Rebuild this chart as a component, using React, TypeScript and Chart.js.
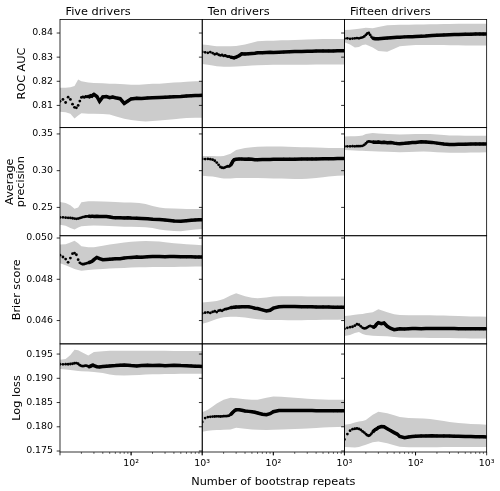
import React, { useEffect, useRef } from 'react';
import { Chart, registerables } from 'chart.js';

Chart.register(...registerables);

const FONT = '"DejaVu Sans", sans-serif';

const COLUMN_TITLES = ['Five drivers', 'Ten drivers', 'Fifteen drivers'];
const ROW_LABELS = [['ROC AUC'], ['Average', 'precision'], ['Brier score'], ['Log loss']];
const X_LABEL = 'Number of bootstrap repeats';
const X_MIN = 10;
const X_MAX = 1000;
const X_LABEL_TICKS = [100, 1000];
const X_TICK_TEXT: Record<number, string> = { 100: '10²', 1000: '10³' };
const Y_MIN = [0.8008, 0.2114, 0.04487, 0.1748];
const Y_MAX = [0.8456, 0.3586, 0.05011, 0.1971];
const Y_TICKS = [
  [0.81, 0.82, 0.83, 0.84],
  [0.25, 0.3, 0.35],
  [0.046, 0.048, 0.05],
  [0.175, 0.18, 0.185, 0.19, 0.195],
];
const Y_DECIMALS = [2, 2, 3, 3];

// number of bootstrap repeats at which the mean is read
const MEAN_N = [10, 11, 12, 13, 14, 15, 16, 17, 18, 19, 20, 21, 22, 23, 24, 25, 26, 27, 28, 29, 30,
  33, 36, 40, 45, 50, 55, 60, 70, 80, 90, 100, 120, 140, 170, 200, 250, 300, 350, 400, 500, 600, 700, 800, 900, 1000];
// number of bootstrap repeats at which the band is read
const BAND_N = [10, 12, 14, 16, 18, 20, 25, 30, 40, 50, 60, 80, 100, 130, 160, 200, 250, 300, 400, 500, 600, 800, 1000];

// ROC AUC
const rocMean5 = [0.8117, 0.8125, 0.8112, 0.8134, 0.8125, 0.8105, 0.8092, 0.8090, 0.8100, 0.8118, 0.8133, 0.8135, 0.8133, 0.8137, 0.8135, 0.8138, 0.8136, 0.8140, 0.8138, 0.8143, 0.8146,
  0.8137, 0.8117, 0.8135, 0.8137, 0.8132, 0.8135, 0.8132, 0.8128, 0.8108, 0.8118, 0.8127, 0.8130, 0.8129, 0.8131, 0.8132, 0.8133, 0.8134, 0.8135, 0.8136, 0.8137, 0.8139, 0.8140, 0.8141, 0.8141, 0.8142];
const rocHi5 = [0.8173, 0.8173, 0.8175, 0.8180, 0.8207, 0.8200, 0.8195, 0.8193, 0.8192, 0.8190, 0.8190, 0.8188, 0.8186, 0.8186, 0.8188, 0.8190, 0.8190, 0.8192, 0.8195, 0.8196, 0.8198, 0.8200, 0.8200];
const rocLo5 = [0.8074, 0.8072, 0.8065, 0.8046, 0.8058, 0.8068, 0.8066, 0.8066, 0.8064, 0.8062, 0.8055, 0.8045, 0.8040, 0.8035, 0.8033, 0.8035, 0.8038, 0.8040, 0.8043, 0.8046, 0.8048, 0.8049, 0.8049];

const rocMean10 = [0.8322, 0.8320, 0.8318, 0.8321, 0.8317, 0.8312, 0.8314, 0.8310, 0.8307, 0.8309, 0.8305, 0.8307, 0.8304, 0.8302, 0.8303, 0.8300, 0.8299, 0.8298, 0.8297, 0.8299, 0.8300,
  0.8306, 0.8314, 0.8313, 0.8314, 0.8315, 0.8316, 0.8318, 0.8318, 0.8319, 0.8320, 0.8319, 0.8320, 0.8321, 0.8322, 0.8323, 0.8323, 0.8324, 0.8324, 0.8325, 0.8326, 0.8326, 0.8326, 0.8327, 0.8327, 0.8327];
const rocHi10 = [0.8352, 0.8350, 0.8347, 0.8345, 0.8345, 0.8345, 0.8345, 0.8346, 0.8352, 0.8360, 0.8366, 0.8368, 0.8368, 0.8370, 0.8370, 0.8371, 0.8372, 0.8373, 0.8374, 0.8375, 0.8375, 0.8375, 0.8375];
const rocLo10 = [0.8272, 0.8268, 0.8265, 0.8262, 0.8261, 0.8260, 0.8260, 0.8261, 0.8263, 0.8265, 0.8266, 0.8267, 0.8268, 0.8268, 0.8268, 0.8269, 0.8269, 0.8269, 0.8270, 0.8270, 0.8270, 0.8270, 0.8270];

const rocMean15 = [0.8377, 0.8378, 0.8376, 0.8377, 0.8378, 0.8379, 0.8378, 0.8380, 0.8382, 0.8386, 0.8392, 0.8398, 0.8400, 0.8392, 0.8384, 0.8378, 0.8377, 0.8376, 0.8376, 0.8376, 0.8376,
  0.8377, 0.8378, 0.8379, 0.8380, 0.8381, 0.8382, 0.8382, 0.8384, 0.8385, 0.8385, 0.8386, 0.8387, 0.8388, 0.8390, 0.8391, 0.8392, 0.8393, 0.8394, 0.8394, 0.8395, 0.8395, 0.8396, 0.8396, 0.8396, 0.8396];
const rocHi15 = [0.8412, 0.8414, 0.8416, 0.8418, 0.8420, 0.8422, 0.8420, 0.8425, 0.8432, 0.8433, 0.8434, 0.8434, 0.8435, 0.8435, 0.8436, 0.8436, 0.8437, 0.8437, 0.8438, 0.8438, 0.8438, 0.8438, 0.8438];
const rocLo15 = [0.8362, 0.8352, 0.8340, 0.8342, 0.8350, 0.8352, 0.8340, 0.8325, 0.8322, 0.8335, 0.8345, 0.8348, 0.8350, 0.8350, 0.8350, 0.8350, 0.8350, 0.8349, 0.8349, 0.8348, 0.8348, 0.8348, 0.8348];

// Average precision
const apMean5 = [0.2364, 0.2365, 0.2360, 0.2358, 0.2356, 0.2352, 0.2348, 0.2345, 0.2348, 0.2355, 0.2362, 0.2368, 0.2372, 0.2376, 0.2378, 0.2378, 0.2378, 0.2377, 0.2378, 0.2378, 0.2377,
  0.2378, 0.2377, 0.2376, 0.2376, 0.2370, 0.2362, 0.2358, 0.2358, 0.2357, 0.2358, 0.2355, 0.2352, 0.2350, 0.2346, 0.2340, 0.2335, 0.2328, 0.2322, 0.2315, 0.2310, 0.2318, 0.2325, 0.2330, 0.2332, 0.2333];
const apHi5 = [0.2574, 0.2560, 0.2530, 0.2480, 0.2500, 0.2570, 0.2582, 0.2582, 0.2580, 0.2578, 0.2572, 0.2568, 0.2565, 0.2560, 0.2545, 0.2520, 0.2500, 0.2490, 0.2485, 0.2480, 0.2478, 0.2478, 0.2478];
const apLo5 = [0.2264, 0.2250, 0.2220, 0.2200, 0.2225, 0.2245, 0.2250, 0.2252, 0.2250, 0.2248, 0.2245, 0.2238, 0.2235, 0.2232, 0.2230, 0.2220, 0.2200, 0.2190, 0.2180, 0.2175, 0.2185, 0.2200, 0.2206];

const apMean10 = [0.3160, 0.3158, 0.3160, 0.3157, 0.3150, 0.3135, 0.3110, 0.3080, 0.3050, 0.3040, 0.3038, 0.3045, 0.3055, 0.3060, 0.3058, 0.3070, 0.3100, 0.3130, 0.3148, 0.3152, 0.3155,
  0.3158, 0.3158, 0.3157, 0.3158, 0.3155, 0.3150, 0.3148, 0.3152, 0.3152, 0.3153, 0.3154, 0.3155, 0.3156, 0.3157, 0.3157, 0.3158, 0.3158, 0.3159, 0.3160, 0.3161, 0.3162, 0.3163, 0.3164, 0.3165, 0.3166];
const apHi10 = [0.3200, 0.3200, 0.3200, 0.3195, 0.3195, 0.3200, 0.3230, 0.3280, 0.3310, 0.3320, 0.3325, 0.3330, 0.3330, 0.3328, 0.3325, 0.3322, 0.3320, 0.3318, 0.3315, 0.3312, 0.3310, 0.3310, 0.3310];
const apLo10 = [0.2930, 0.2925, 0.2920, 0.2910, 0.2900, 0.2895, 0.2895, 0.2900, 0.2900, 0.2900, 0.2900, 0.2898, 0.2895, 0.2892, 0.2890, 0.2888, 0.2888, 0.2890, 0.2900, 0.2910, 0.2920, 0.2930, 0.2935];

const apMean15 = [0.3330, 0.3332, 0.3331, 0.3333, 0.3332, 0.3334, 0.3333, 0.3335, 0.3338, 0.3350, 0.3370, 0.3390, 0.3398, 0.3396, 0.3392, 0.3390, 0.3388, 0.3387, 0.3386, 0.3388, 0.3390,
  0.3385, 0.3388, 0.3380, 0.3383, 0.3375, 0.3370, 0.3368, 0.3372, 0.3378, 0.3382, 0.3385, 0.3392, 0.3390, 0.3385, 0.3375, 0.3362, 0.3355, 0.3356, 0.3358, 0.3360, 0.3362, 0.3363, 0.3363, 0.3364, 0.3364];
const apHi15 = [0.3465, 0.3468, 0.3470, 0.3472, 0.3480, 0.3500, 0.3512, 0.3505, 0.3500, 0.3495, 0.3492, 0.3495, 0.3498, 0.3500, 0.3498, 0.3492, 0.3485, 0.3480, 0.3478, 0.3476, 0.3475, 0.3475, 0.3475];
const apLo15 = [0.3280, 0.3278, 0.3275, 0.3272, 0.3270, 0.3268, 0.3265, 0.3262, 0.3258, 0.3255, 0.3252, 0.3255, 0.3258, 0.3260, 0.3258, 0.3252, 0.3248, 0.3245, 0.3245, 0.3245, 0.3246, 0.3248, 0.3250];

// Brier score
const brierMean5 = [0.04917, 0.04908, 0.04898, 0.04882, 0.04903, 0.04924, 0.04927, 0.04919, 0.04895, 0.04880, 0.04875, 0.04873, 0.04874, 0.04876, 0.04878, 0.04880, 0.04882, 0.04884, 0.04886, 0.04890, 0.04895,
  0.04906, 0.04900, 0.04895, 0.04896, 0.04897, 0.04898, 0.04899, 0.04900, 0.04903, 0.04905, 0.04906, 0.04908, 0.04907, 0.04909, 0.04910, 0.04910, 0.04909, 0.04910, 0.04910, 0.04909, 0.04909, 0.04909, 0.04908, 0.04908, 0.04908];
const brierHi5 = [0.04968, 0.04970, 0.04978, 0.04987, 0.04975, 0.04960, 0.04955, 0.04955, 0.04962, 0.04968, 0.04972, 0.04978, 0.04982, 0.04984, 0.04985, 0.04984, 0.04983, 0.04980, 0.04975, 0.04972, 0.04970, 0.04967, 0.04965];
const brierLo5 = [0.04878, 0.04868, 0.04858, 0.04850, 0.04845, 0.04841, 0.04845, 0.04848, 0.04850, 0.04852, 0.04853, 0.04855, 0.04857, 0.04858, 0.04858, 0.04859, 0.04859, 0.04860, 0.04860, 0.04861, 0.04861, 0.04862, 0.04862];

const brierMean10 = [0.04635, 0.04638, 0.04640, 0.04637, 0.04642, 0.04645, 0.04641, 0.04648, 0.04650, 0.04647, 0.04652, 0.04655, 0.04656, 0.04658, 0.04660, 0.04662, 0.04663, 0.04664, 0.04665, 0.04665, 0.04666,
  0.04666, 0.04667, 0.04667, 0.04667, 0.04664, 0.04660, 0.04658, 0.04652, 0.04647, 0.04650, 0.04660, 0.04667, 0.04668, 0.04668, 0.04668, 0.04667, 0.04667, 0.04667, 0.04666, 0.04666, 0.04666, 0.04665, 0.04665, 0.04665, 0.04665];
const brierHi10 = [0.04688, 0.04690, 0.04692, 0.04695, 0.04700, 0.04705, 0.04722, 0.04732, 0.04718, 0.04710, 0.04708, 0.04712, 0.04716, 0.04718, 0.04718, 0.04718, 0.04718, 0.04717, 0.04717, 0.04716, 0.04716, 0.04716, 0.04716];
const brierLo10 = [0.04585, 0.04592, 0.04600, 0.04608, 0.04612, 0.04616, 0.04618, 0.04618, 0.04615, 0.04610, 0.04606, 0.04603, 0.04603, 0.04603, 0.04602, 0.04602, 0.04602, 0.04603, 0.04603, 0.04604, 0.04604, 0.04604, 0.04605];

const brierMean15 = [0.04560, 0.04565, 0.04568, 0.04570, 0.04575, 0.04582, 0.04580, 0.04572, 0.04565, 0.04562, 0.04563, 0.04567, 0.04572, 0.04574, 0.04572, 0.04570, 0.04568, 0.04572, 0.04580, 0.04586, 0.04590,
  0.04585, 0.04588, 0.04572, 0.04562, 0.04556, 0.04558, 0.04560, 0.04559, 0.04560, 0.04561, 0.04561, 0.04560, 0.04561, 0.04562, 0.04562, 0.04561, 0.04561, 0.04561, 0.04560, 0.04560, 0.04560, 0.04560, 0.04560, 0.04560, 0.04560];
const brierHi15 = [0.04622, 0.04625, 0.04628, 0.04630, 0.04632, 0.04635, 0.04640, 0.04655, 0.04640, 0.04630, 0.04627, 0.04626, 0.04626, 0.04626, 0.04626, 0.04625, 0.04624, 0.04623, 0.04622, 0.04621, 0.04620, 0.04620, 0.04619];
const brierLo15 = [0.04525, 0.04530, 0.04540, 0.04545, 0.04535, 0.04530, 0.04526, 0.04525, 0.04524, 0.04520, 0.04518, 0.04517, 0.04517, 0.04517, 0.04516, 0.04516, 0.04515, 0.04515, 0.04514, 0.04514, 0.04513, 0.04513, 0.04513];

// Log loss
const llMean5 = [0.19290, 0.19288, 0.19292, 0.19290, 0.19295, 0.19300, 0.19310, 0.19315, 0.19300, 0.19270, 0.19255, 0.19250, 0.19255, 0.19262, 0.19255, 0.19245, 0.19240, 0.19250, 0.19265, 0.19270, 0.19260,
  0.19240, 0.19235, 0.19242, 0.19250, 0.19255, 0.19260, 0.19262, 0.19270, 0.19272, 0.19268, 0.19262, 0.19255, 0.19262, 0.19270, 0.19265, 0.19268, 0.19260, 0.19265, 0.19268, 0.19262, 0.19260, 0.19255, 0.19250, 0.19248, 0.19245];
const llHi5 = [0.19385, 0.19400, 0.19480, 0.19590, 0.19580, 0.19540, 0.19470, 0.19545, 0.19560, 0.19568, 0.19570, 0.19570, 0.19570, 0.19570, 0.19570, 0.19568, 0.19568, 0.19566, 0.19565, 0.19565, 0.19564, 0.19563, 0.19562];
const llLo5 = [0.19190, 0.19180, 0.19170, 0.19160, 0.19150, 0.19145, 0.19140, 0.19130, 0.19110, 0.19080, 0.19065, 0.19060, 0.19062, 0.19070, 0.19078, 0.19082, 0.19085, 0.19088, 0.19090, 0.19092, 0.19093, 0.19094, 0.19094];

const llMean10 = [0.18100, 0.18180, 0.18200, 0.18205, 0.18210, 0.18212, 0.18215, 0.18215, 0.18212, 0.18215, 0.18218, 0.18220, 0.18220, 0.18225, 0.18232, 0.18250, 0.18275, 0.18300, 0.18320, 0.18340, 0.18350,
  0.18352, 0.18340, 0.18325, 0.18318, 0.18312, 0.18300, 0.18285, 0.18260, 0.18250, 0.18270, 0.18310, 0.18335, 0.18338, 0.18338, 0.18336, 0.18335, 0.18335, 0.18334, 0.18333, 0.18332, 0.18332, 0.18331, 0.18330, 0.18330, 0.18330];
const llHi10 = [0.18300, 0.18350, 0.18420, 0.18480, 0.18520, 0.18560, 0.18600, 0.18590, 0.18570, 0.18560, 0.18560, 0.18600, 0.18625, 0.18620, 0.18610, 0.18600, 0.18590, 0.18580, 0.18570, 0.18565, 0.18560, 0.18558, 0.18558];
const llLo10 = [0.17900, 0.17920, 0.17930, 0.17935, 0.17935, 0.17938, 0.17945, 0.17980, 0.17960, 0.17945, 0.17940, 0.17935, 0.17940, 0.17945, 0.17950, 0.17955, 0.17960, 0.17965, 0.17975, 0.17985, 0.17990, 0.17995, 0.18000];

const llMean15 = [0.17740, 0.17850, 0.17920, 0.17950, 0.17960, 0.17965, 0.17955, 0.17935, 0.17905, 0.17880, 0.17850, 0.17825, 0.17815, 0.17830, 0.17860, 0.17890, 0.17920, 0.17940, 0.17950, 0.17965, 0.17985,
  0.18005, 0.18000, 0.17960, 0.17920, 0.17880, 0.17850, 0.17800, 0.17775, 0.17790, 0.17800, 0.17805, 0.17810, 0.17812, 0.17815, 0.17812, 0.17810, 0.17808, 0.17806, 0.17804, 0.17800, 0.17798, 0.17796, 0.17794, 0.17792, 0.17790];
const llHi15 = [0.18040, 0.18060, 0.18090, 0.18110, 0.18120, 0.18140, 0.18250, 0.18310, 0.18280, 0.18240, 0.18200, 0.18180, 0.18175, 0.18170, 0.18160, 0.18140, 0.18120, 0.18100, 0.18080, 0.18070, 0.18060, 0.18050, 0.18042];
const llLo15 = [0.17583, 0.17580, 0.17575, 0.17585, 0.17610, 0.17630, 0.17680, 0.17695, 0.17660, 0.17620, 0.17590, 0.17580, 0.17578, 0.17578, 0.17580, 0.17580, 0.17582, 0.17582, 0.17583, 0.17583, 0.17583, 0.17583, 0.17583];

const PANELS = [
  [
    { mean: rocMean5, lo: rocLo5, hi: rocHi5 },
    { mean: rocMean10, lo: rocLo10, hi: rocHi10 },
    { mean: rocMean15, lo: rocLo15, hi: rocHi15 },
  ],
  [
    { mean: apMean5, lo: apLo5, hi: apHi5 },
    { mean: apMean10, lo: apLo10, hi: apHi10 },
    { mean: apMean15, lo: apLo15, hi: apHi15 },
  ],
  [
    { mean: brierMean5, lo: brierLo5, hi: brierHi5 },
    { mean: brierMean10, lo: brierLo10, hi: brierHi10 },
    { mean: brierMean15, lo: brierLo15, hi: brierHi15 },
  ],
  [
    { mean: llMean5, lo: llLo5, hi: llHi5 },
    { mean: llMean10, lo: llLo10, hi: llHi10 },
    { mean: llMean15, lo: llLo15, hi: llHi15 },
  ],
];

// style constants
const BAND_COLOR = '#cccccc';
const TICK_FONT = 9.4;
const LABEL_FONT = 11.3;
const Y_TITLE_PAD = [15.7, 5, 9.9, 9.9];
const Y_TITLE_LH = [1.2, 0.97, 1.2, 1.2];

const panelPlugin = {
  id: 'panelFrames',
  afterDraw(chart: any) {
    const ctx = chart.ctx as CanvasRenderingContext2D;
    ctx.save();
    ctx.fillStyle = '#000';
    ctx.font = `${LABEL_FONT}px ${FONT}`;
    ctx.textBaseline = 'alphabetic';
    ctx.textAlign = 'left';
    for (let c = 0; c < 3; c++) {
      const xs = chart.scales['x' + c];
      ctx.fillText(COLUMN_TITLES[c], xs.left + 5.5, 14.5);
    }
    // x-axis label, centred under the middle column
    const mid = chart.scales.x1;
    ctx.textAlign = 'center';
    ctx.fillText(X_LABEL, (mid.left + mid.right) / 2, 485);

    ctx.strokeStyle = '#000';
    for (let r = 0; r < 4; r++) {
      const ys = chart.scales['y' + r];
      for (let c = 0; c < 3; c++) {
        const xs = chart.scales['x' + c];
        ctx.lineWidth = 0.8;
        ctx.strokeRect(xs.left, ys.top, xs.right - xs.left, ys.bottom - ys.top);
        ctx.beginPath();
        for (const t of Y_TICKS[r]) {
          const y = ys.getPixelForValue(t);
          ctx.moveTo(xs.left - 3.3, y);
          ctx.lineTo(xs.left, y);
        }
        ctx.stroke();
        if (r === 3) {
          const bottom = ys.bottom;
          for (const dec of [10, 100]) {
            for (let k = 1; k <= 10; k++) {
              const v = dec * k;
              const major = k === 1 || k === 10;
              const x = xs.getPixelForValue(v);
              ctx.beginPath();
              ctx.lineWidth = major ? 0.8 : 0.6;
              ctx.moveTo(x, bottom);
              ctx.lineTo(x, bottom + (major ? 3.3 : 1.9));
              ctx.stroke();
            }
          }
        }
      }
    }
    ctx.restore();
  },
};

export default function App() {
  const ref = useRef<HTMLCanvasElement | null>(null);

  useEffect(() => {
    if (!ref.current) return;
    Chart.defaults.font.family = FONT;
    Chart.defaults.color = '#000';

    const datasets: any[] = [];
    PANELS.forEach((row, r) => {
      row.forEach((p, c) => {
        const xAxisID = 'x' + c;
        const yAxisID = 'y' + r;
        datasets.push({
          data: BAND_N.map((n, i) => ({ x: n, y: p.lo[i] })),
          xAxisID, yAxisID,
          borderColor: 'rgba(0,0,0,0)', borderWidth: 0, pointRadius: 0, fill: false, order: 2,
        });
        datasets.push({
          data: BAND_N.map((n, i) => ({ x: n, y: p.hi[i] })),
          xAxisID, yAxisID,
          borderColor: 'rgba(0,0,0,0)', borderWidth: 0, pointRadius: 0,
          fill: '-1', backgroundColor: BAND_COLOR, order: 2,
        });
        datasets.push({
          data: MEAN_N.map((n, i) => ({ x: n, y: p.mean[i] })),
          xAxisID, yAxisID,
          borderColor: '#000', borderWidth: 3.5, pointRadius: 1.4, pointBorderWidth: 0,
          pointBackgroundColor: '#000', fill: false, order: 0,
          segment: {
            borderColor: (s: any) => (s.p0.parsed.x < 25 ? 'rgba(0,0,0,0)' : '#000'),
          },
        });
      });
    });

    const scales: any = {};
    for (let c = 0; c < 3; c++) {
      scales['x' + c] = {
        type: 'logarithmic',
        position: 'bottom',
        stack: 'cols',
        stackWeight: 1,
        min: X_MIN,
        max: X_MAX,
        grid: { display: false, drawTicks: false },
        border: { display: false },
        ticks: {
          autoSkip: false, maxRotation: 0, minRotation: 0, padding: 5.5, color: '#000',
          font: { size: TICK_FONT, family: FONT },
          callback: (v: any) => X_TICK_TEXT[Number(v)] ?? null,
        },
        afterBuildTicks: (s: any) => { s.ticks = X_LABEL_TICKS.map((v) => ({ value: v })); },
        afterFit: (s: any) => { s.height = 39; },
        title: { display: false },
      };
    }
    for (let r = 3; r >= 0; r--) {
      scales['y' + r] = {
        type: 'linear',
        position: 'left',
        stack: 'rows',
        stackWeight: 1,
        min: Y_MIN[r],
        max: Y_MAX[r],
        grid: { display: false, drawTicks: false },
        border: { display: false },
        ticks: {
          padding: 7, color: '#000', font: { size: TICK_FONT, family: FONT },
          callback: (v: any) => Number(v).toFixed(Y_DECIMALS[r]),
        },
        afterBuildTicks: (s: any) => { s.ticks = Y_TICKS[r].map((v) => ({ value: v })); },
        afterFit: (s: any) => { s.width = 60; },
        title: {
          display: true, text: ROW_LABELS[r], color: '#000',
          font: { size: LABEL_FONT, family: FONT, lineHeight: Y_TITLE_LH[r] },
          padding: { top: Y_TITLE_PAD[r], bottom: 0 },
        },
      };
    }

    const chart = new Chart(ref.current, {
      type: 'line',
      data: { datasets },
      options: {
        responsive: false,
        animation: false,
        devicePixelRatio: 1,
        events: [],
        layout: { padding: { left: 0, right: 12.3, top: 19.5, bottom: 0 } },
        plugins: { legend: { display: false }, tooltip: { enabled: false }, title: { display: false } },
        elements: { line: { tension: 0 } },
        scales,
      } as any,
      plugins: [panelPlugin],
    });
    return () => chart.destroy();
  }, []);

  return (
    <div style={{ position: 'absolute', left: 0, top: 0, width: 500, height: 491, background: '#fff' }}>
      <canvas ref={ref} width={500} height={491} style={{ display: 'block', width: 500, height: 491 }} />
    </div>
  );
}
